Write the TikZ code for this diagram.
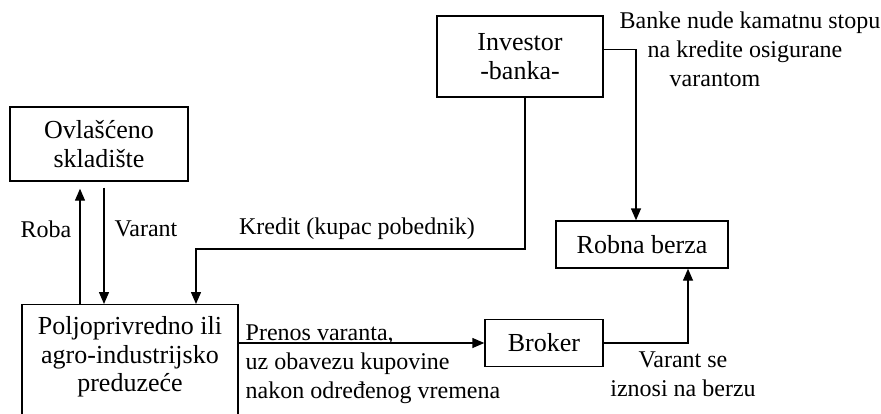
\documentclass[tikz,border=0pt]{standalone}
\usepackage{fontspec}
\setmainfont{Liberation Serif}
\usetikzlibrary{arrows.meta}
\begin{document}
\begin{tikzpicture}[x=1pt, y=-1pt, line width=1.4pt,
  box/.style={draw, align=center, inner sep=0pt, font=\fontsize{26}{28.5}\selectfont},
  lbl/.style={inner sep=0pt, font=\fontsize{24}{29}\selectfont},
  flow/.style={-{Triangle[length=12pt,width=10pt]}}]
\clip (0,0) rectangle (881,413);
\node[box, minimum width=178pt, minimum height=74pt] (store) at (99,144) {Ovlašćeno\\skladište};
\node[box, minimum width=166pt, minimum height=81pt] (investor) at (520,56.5) {Investor\\-banka-};
\node[box, minimum width=172pt, minimum height=47pt] (exchange) at (642,244.5) {Robna berza};
\node[box, minimum width=118pt, minimum height=47pt] (broker) at (544,343) {Broker};
\node[box, anchor=north, minimum width=216pt, inner ysep=12pt, text depth=100pt] (firm) at (130,304) {Poljoprivredno ili\\agro-industrijsko\\preduzeće};
% labels
\node[lbl] (roba) at (46,229) {Roba};
\node[lbl] (varant) at (146,229) {Varant};
\node[lbl] (kredit) at (357,229) {Kredit (kupac pobednik)};
\node[lbl, align=left, anchor=north west] (prenos) at (245,324) {Prenos varanta,\\uz obavezu kupovine\\nakon određenog vremena};
\node[lbl, align=center, anchor=north] (iznos) at (683,351) {Varant se\\iznosi na berzu};
\node[lbl, align=left, anchor=north west] (kamata) at (619,11) {Banke nude kamatnu stopu\\\hspace*{28pt}na kredite osigurane\\\hspace*{50pt}varantom};
% connectors
\coordinate (robatop) at ([xshift=-19pt,yshift=-7pt]store.south);
\coordinate (varanttop) at ([xshift=5pt,yshift=-6pt]store.south);
\coordinate (kreditbend) at (196,249);
\draw[flow] (robatop |- firm.north) -- (robatop);
\draw[flow] (varanttop) -- (varanttop |- firm.north);
\draw[flow] ([xshift=5pt]investor.south) |- (kreditbend) -- (kreditbend |- firm.north);
\draw[flow] ([yshift=7pt]investor.east) -| ([xshift=-6pt]exchange.north);
\draw[flow] (broker.east) -| ([xshift=46pt]exchange.south);
\draw[flow] (firm.east |- broker.west) -- (broker.west);
\end{tikzpicture}
\end{document}
